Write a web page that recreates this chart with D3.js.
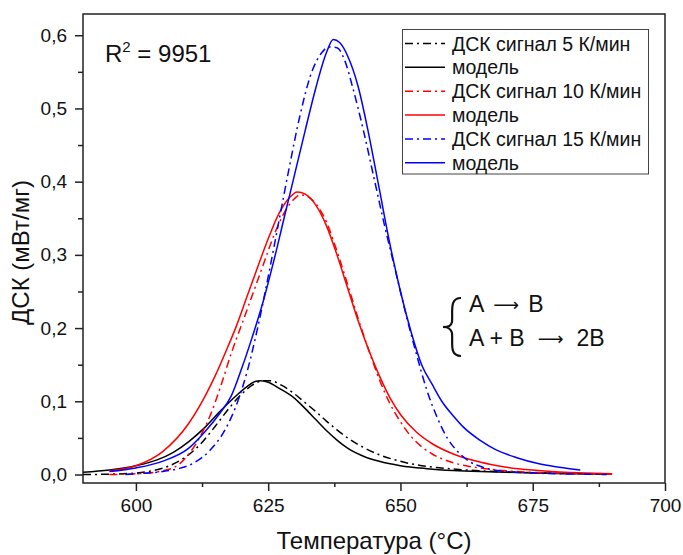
<!DOCTYPE html>
<html><head><meta charset="utf-8">
<script src="https://cdn.jsdelivr.net/npm/d3@7"></script>
<style>body{margin:0;background:#fff}svg{display:block;font-family:"Liberation Sans",Arial,sans-serif}</style>
</head><body><svg id="c" width="683" height="555"></svg>
<script>
// ---- data (temperature °C, DSC mW/mg) ----
const dsc5 = [[590,0.0],[595,0.0005],[600,0.002],[603,0.005],[606,0.011],[609,0.022],[612,0.04],[615,0.066],[618,0.094],[620,0.11],[622,0.122],[624,0.128],[625.5,0.128],[627.5,0.122],[630,0.11],[632,0.098],[634,0.086],[636,0.073],[638,0.061],[640,0.05],[643,0.037],[646,0.027],[650,0.018],[655,0.011],[660,0.0075],[665,0.005],[670,0.0035],[680,0.0015],[690,0.0005]];
const model5 = [[590,0.003],[595,0.006],[600,0.012],[604,0.020],[607,0.030],[610,0.045],[613,0.064],[616,0.087],[619,0.108],[621,0.12],[622.5,0.127],[623.5,0.128],[625,0.126],[627,0.118],[630,0.104],[632,0.09],[634,0.075],[636,0.06],[638,0.047],[640,0.036],[643,0.025],[646,0.018],[650,0.012],[655,0.008],[660,0.0055],[665,0.004],[670,0.003],[680,0.0015],[690,0.0008]];
const dsc10 = [[595,0.0],[600,0.001],[605,0.005],[608,0.013],[610,0.028],[612,0.05],[614,0.08],[616,0.12],[618,0.165],[620,0.205],[622,0.245],[624,0.285],[626,0.325],[628,0.357],[630,0.377],[631,0.382],[632,0.381],[634,0.37],[636,0.345],[638,0.305],[640,0.26],[642,0.213],[644,0.17],[646,0.13],[648,0.097],[650,0.072],[652,0.052],[654,0.038],[656,0.028],[658,0.021],[660,0.016],[663,0.011],[666,0.008],[670,0.005],[675,0.003],[680,0.002],[685,0.001],[690,0.0005]];
const model10 = [[595,0.005],[600,0.012],[605,0.031],[610,0.07],[613,0.106],[615,0.135],[617,0.168],[619,0.203],[621,0.243],[623,0.283],[625,0.322],[627,0.356],[629,0.378],[630.5,0.386],[632,0.383],[634,0.368],[636,0.34],[638,0.30],[640,0.255],[642,0.21],[644,0.17],[646,0.135],[648,0.105],[650,0.082],[653,0.058],[656,0.042],[660,0.028],[665,0.017],[670,0.010],[675,0.006],[680,0.0035],[685,0.002],[690,0.001]];
const dsc15 = [[598,0.0],[600,0.001],[605,0.004],[608,0.008],[611,0.016],[614,0.033],[617,0.063],[619,0.095],[621,0.14],[623,0.20],[625,0.27],[627,0.345],[629,0.42],[631,0.49],[633,0.545],[635,0.575],[636.5,0.584],[638,0.583],[639.5,0.565],[641,0.528],[643,0.47],[645,0.405],[647,0.34],[649,0.28],[651,0.22],[653,0.165],[655,0.115],[657,0.077],[659,0.048],[661,0.03],[663,0.018],[666,0.009],[670,0.004],[675,0.002],[680,0.001],[685,0.0005],[689,0.0]];
const model15 = [[595,0.004],[600,0.009],[605,0.018],[610,0.036],[613,0.058],[616,0.085],[618,0.107],[620,0.145],[622,0.188],[624,0.235],[626,0.29],[628,0.35],[630,0.41],[632,0.47],[634,0.528],[636,0.576],[637.3,0.594],[638.5,0.59],[640,0.572],[642,0.53],[644,0.465],[646,0.39],[648,0.315],[650,0.25],[652,0.195],[654,0.15],[656,0.123],[658,0.098],[660,0.08],[662,0.064],[665,0.047],[668,0.034],[672,0.023],[676,0.015],[680,0.010],[684,0.006]];

const seriesNames = ["ДСК сигнал 5 К/мин","модель","ДСК сигнал 10 К/мин","модель","ДСК сигнал 15 К/мин","модель"];
const seriesData = [dsc5, model5, dsc10, model10, dsc15, model15];
const seriesColors = ["#000000","#000000","#ff0000","#ff0000","#0000ff","#0000ff"];
const seriesDashed = [true,false,true,false,true,false];

const xTicks = [600,625,650,675,700];
const yTicks = [0,0.1,0.2,0.3,0.4,0.5,0.6];
const xTitle = "Температура (°C)";
const yTitle = "ДСК (мВт/мг)";
const r2Text = "9951";
const reactions = [["A","⟶","B"],["A + B","⟶","2B"]];

// ---- drawing ----
const svg = d3.select("#c");
const L=83,R=665,T=14,B=483;
const x = d3.scaleLinear().domain([590,700]).range([L,R]);
const y = d3.scaleLinear().domain([-0.0116,0.629]).range([B,T]);
const fmt = d => d3.format(".1f")(d).replace(".",",");

// curves
const line = d3.line().x(d=>x(d[0])).y(d=>y(d[1])).curve(d3.curveMonotoneX);
const plot = svg.append("g");
seriesData.forEach((s,i)=>{
  plot.append("path").attr("d",line(s)).attr("fill","none")
    .attr("stroke",seriesColors[i]).attr("stroke-width",1.5)
    .attr("stroke-dasharray",seriesDashed[i]?"8,4,2,4":null);
});

// frame
svg.append("rect").attr("x",L).attr("y",T).attr("width",R-L).attr("height",B-T)
  .attr("fill","none").attr("stroke","#222").attr("stroke-width",1.5);

// x axis
const xAx = d3.axisBottom(x).tickValues(xTicks).tickSize(8).tickPadding(8).tickFormat(d3.format("d"));
svg.append("g").attr("transform",`translate(0,${B})`).call(xAx);
const xMinor = d3.axisBottom(x).tickValues([612.5,637.5,662.5,687.5]).tickSize(4).tickFormat("");
svg.append("g").attr("transform",`translate(0,${B})`).call(xMinor);
// y axis
const yAx = d3.axisLeft(y).tickValues(yTicks).tickSize(8).tickPadding(8).tickFormat(fmt);
svg.append("g").attr("transform",`translate(${L},0)`).call(yAx);
const yMinor = d3.axisLeft(y).tickValues([0.05,0.15,0.25,0.35,0.45,0.55]).tickSize(5).tickFormat("");
svg.append("g").attr("transform",`translate(${L},0)`).call(yMinor);
svg.selectAll(".domain").remove();
svg.selectAll(".tick line").attr("stroke","#222").attr("stroke-width",1.5);
svg.selectAll(".tick text").attr("font-size",19).attr("fill","#111").attr("font-family","Liberation Sans, Arial, sans-serif");

// axis titles
svg.append("text").attr("x",(L+R)/2).attr("y",549).attr("text-anchor","middle")
  .attr("font-size",24).attr("fill","#111").text(xTitle);
svg.append("text").attr("transform",`translate(29,${(T+B)/2 + 4}) rotate(-90)`).attr("text-anchor","middle")
  .attr("font-size",24).attr("fill","#111").text(yTitle);

// R^2
const rt = svg.append("text").attr("x",105).attr("y",62).attr("font-size",24).attr("fill","#111");
rt.append("tspan").text("R");
rt.append("tspan").attr("font-size",15).attr("dy",-10).text("2");
rt.append("tspan").attr("dy",10).text(" = "+r2Text);

// legend
const lg = svg.append("g");
lg.append("rect").attr("x",402.5).attr("y",29.5).attr("width",246).attr("height",144.5)
  .attr("fill","#fff").attr("stroke","#444").attr("stroke-width",1);
seriesNames.forEach((n,i)=>{
  const cy = 43.5 + i*23.85;
  lg.append("line").attr("x1",405).attr("x2",445).attr("y1",cy).attr("y2",cy)
    .attr("stroke",seriesColors[i]).attr("stroke-width",1.5)
    .attr("stroke-dasharray",seriesDashed[i]?"8,4,2,4":null);
  lg.append("text").attr("x",452).attr("y",cy+7).attr("font-size",19.5).attr("fill","#111").text(n);
});

// reaction scheme
svg.append("path").attr("d","M461,298 C449,298 453,312 452,322 C451,326 449,327 443,327 C449,327 451,329 452,333 C453,343 449,356 461,356")
  .attr("fill","none").attr("stroke","#111").attr("stroke-width",2.2);
const arrowGap = [9, 13];
reactions.forEach((r,i)=>{
  const t = svg.append("text").attr("x",469).attr("y",312+i*33.5).attr("font-size",23).attr("fill","#111");
  t.append("tspan").text(r[0]);
  t.append("tspan").attr("font-family","DejaVu Sans").attr("font-size",18).attr("dx",arrowGap[i]).attr("dy",-1).text(r[1]);
  t.append("tspan").attr("dx",arrowGap[i]).attr("dy",1).text(r[2]);
});
</script></body></html>
